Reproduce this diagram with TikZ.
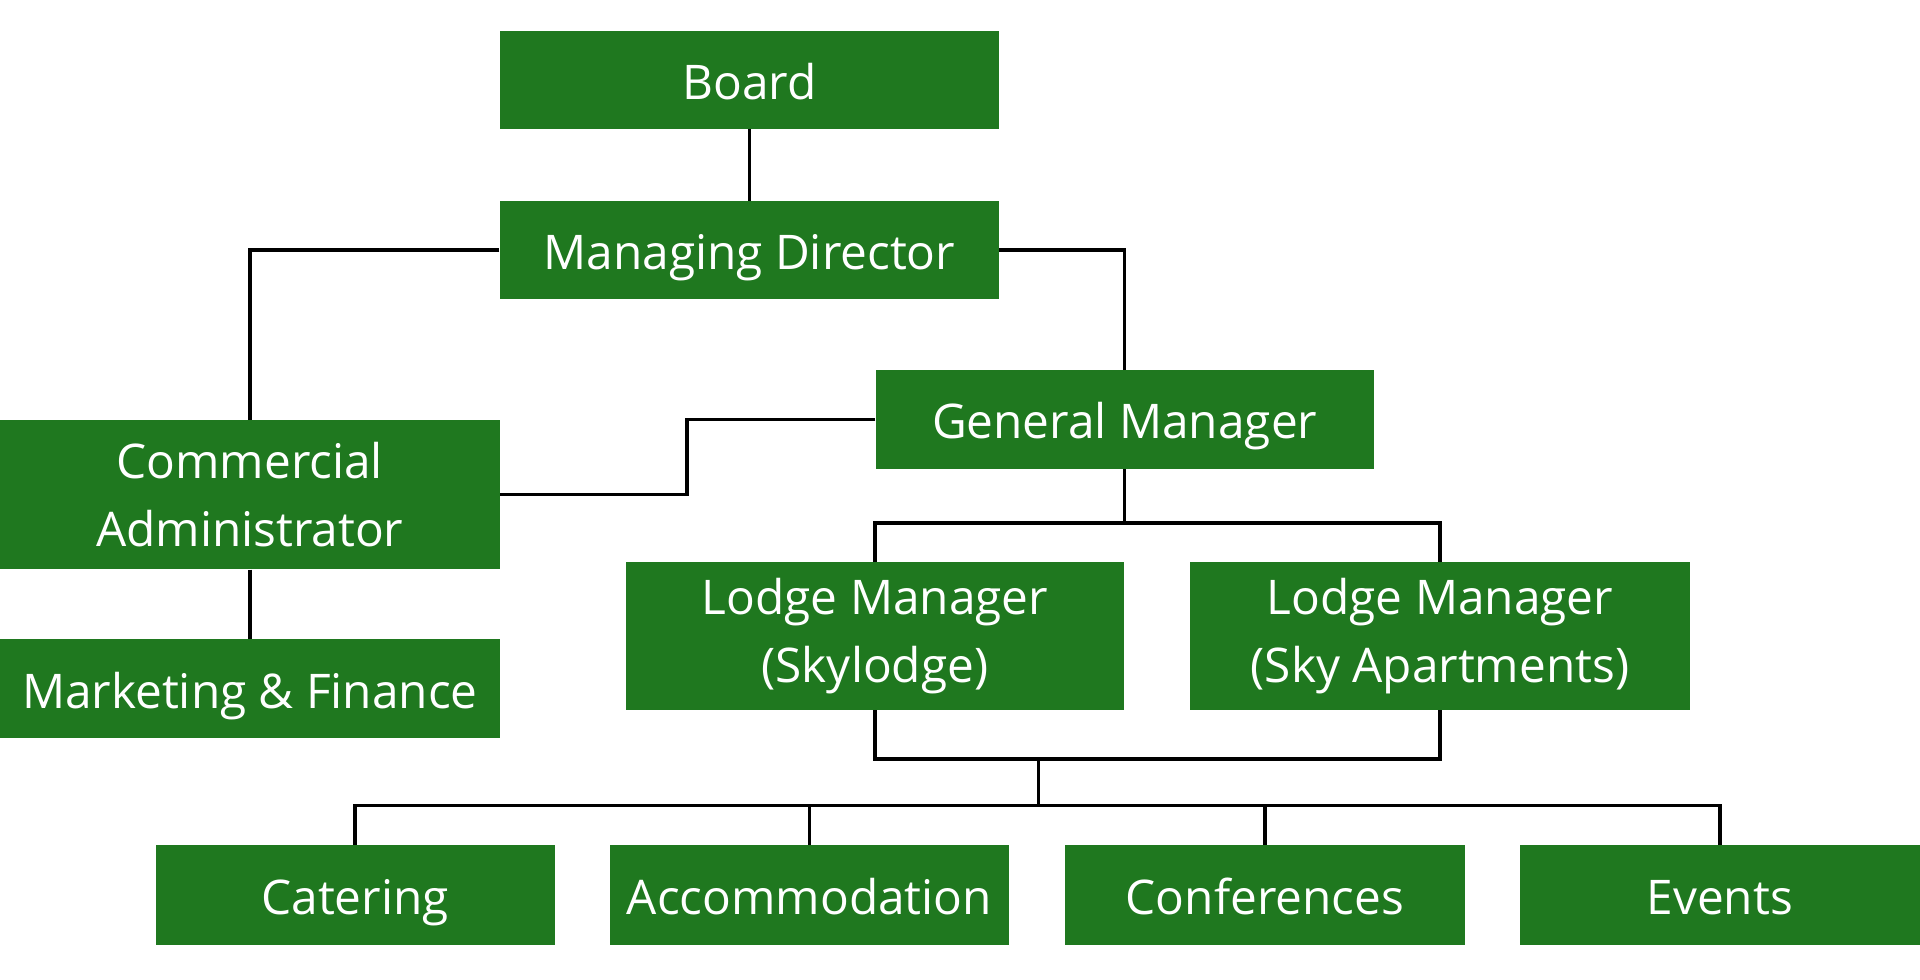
\documentclass[tikz,border=0pt]{standalone}
\usepackage{fontspec}
\setmainfont{Open Sans}
\definecolor{boxgreen}{RGB}{31,120,31}
\begin{document}
\begin{tikzpicture}[x=1pt,y=-1pt,
  box/.style={fill=boxgreen,text=white,inner sep=0pt,align=center,
    font=\fontsize{39}{55}\selectfont},
  one/.style={box,text height=40pt,text depth=8pt},
  link/.style={draw=black,line width=2.8pt}]
\useasboundingbox[fill=white] (0,0) rectangle (1568,800);
\node[one,minimum width=408pt,minimum height=80pt] (board) at (612,65) {Board};
\node[one,minimum width=408pt,minimum height=80pt] (md) at (612,204) {Managing Director};
\node[one,minimum width=407pt,minimum height=81pt] (gm) at (918.5,342.5) {General Manager};
\node[box,minimum width=408pt,minimum height=122pt] (ca) at (204,404) {Commercial\\Administrator};
\node[one,minimum width=408pt,minimum height=81pt] (mf) at (204,562.5) {Marketing \& Finance};
\node[box,minimum width=407pt,minimum height=121pt] (lm1) at (714.5,519.5) {Lodge Manager\\(Skylodge)};
\node[box,minimum width=408pt,minimum height=121pt] (lm2) at (1176,519.5) {Lodge Manager\\(Sky Apartments)};
\node[one,minimum width=326pt,minimum height=82pt] (cat) at (290,731) {Catering};
\node[one,minimum width=326pt,minimum height=82pt] (acc) at (661,731) {Accommodation};
\node[one,minimum width=326pt,minimum height=82pt] (conf) at (1033,731) {Conferences};
\node[one,minimum width=327pt,minimum height=82pt] (ev) at (1404.5,731) {Events};
\coordinate (j1) at (561,342.5);
\coordinate (j2) at (918.5,427);
\coordinate (j3) at (848,620);
\coordinate (j4) at (848,658);
\draw[link] (board.south) -- (md.north);
\draw[link] (md.west) -| (ca.north);
\draw[link] (md.east) -| (gm.north);
\draw[link] (gm.west) -- (j1) |- (ca.east);
\draw[link] (ca.south) -- (mf.north);
\draw[link] (gm.south) -- (j2);
\draw[link] (lm1.north) |- (j2) -| (lm2.north);
\draw[link] (lm1.south) |- (j3) -| (lm2.south);
\draw[link] (j3) -- (j4);
\draw[link] (cat.north) |- (j4) -| (ev.north);
\draw[link] (acc.north) -- (acc.north |- j4);
\draw[link] (conf.north) -- (conf.north |- j4);
\end{tikzpicture}
\end{document}
